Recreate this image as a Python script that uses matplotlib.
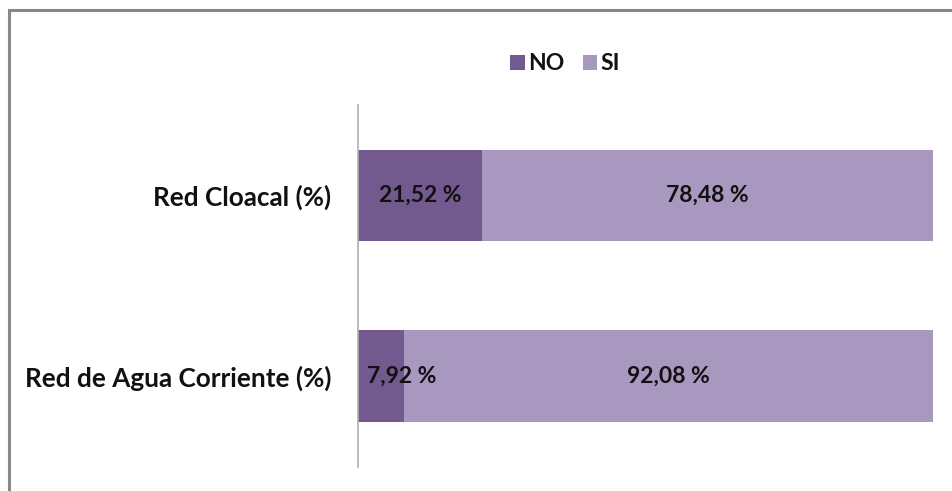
import matplotlib
matplotlib.use("Agg")
import matplotlib.pyplot as plt
from matplotlib.patches import Rectangle

categories = ["Red de Agua Corriente (%)", "Red Cloacal (%)"]
no_vals = [7.92, 21.52]
si_vals = [92.08, 78.48]
series_names = ["NO", "SI"]
colors = ["#725a8f", "#a897bf"]

plt.rcParams['font.family'] = ['Lato', 'DejaVu Sans']

W, H = 952, 491
fig = plt.figure(figsize=(W/100, H/100), dpi=100)
ax = fig.add_axes([358/W, 1-467/H, (933-358)/W, (467-105)/H])

y = list(range(len(categories)))
h = 0.505
b1 = ax.barh(y, no_vals, height=h, color=colors[0], label=series_names[0])
b2 = ax.barh(y, si_vals, left=no_vals, height=h, color=colors[1], label=series_names[1])

ax.set_xlim(0, 100)
ax.set_ylim(-0.504, 1.5)
ax.set_yticks(y)
ax.set_yticklabels(categories, fontsize=18.8, fontweight='bold', color='#111111')
ax.tick_params(axis='y', length=0, pad=19)
ax.set_xticks([])
for s in ['top', 'right', 'bottom']:
    ax.spines[s].set_visible(False)
ax.spines['left'].set_color('#b0b0b0')
ax.spines['left'].set_linewidth(1.2)

def fmt(v):
    return f"{v:.2f}".replace('.', ',') + " %"

lbl = dict(va='center', fontsize=16.5, fontweight='bold', color='#111111')
for i in y:
    nv, sv = no_vals[i], si_vals[i]
    if nv < 12:
        ax.text(1.5, i, fmt(nv), ha='left', **lbl)
    else:
        ax.text(nv/2, i, fmt(nv), ha='center', **lbl)
    ax.text(nv + sv/2, i, fmt(sv), ha='center', **lbl)

leg = fig.legend(handles=[b1, b2], labels=series_names, loc='center',
                 bbox_to_anchor=(565/W, 1-64/H), ncol=2, frameon=False,
                 prop={'size': 16.5, 'weight': 'bold'}, handlelength=0.65,
                 handleheight=0.65, handletextpad=0.12, columnspacing=0.8)
for t in leg.get_texts():
    t.set_color('#111111')

border = Rectangle((9/W, -1), 2, 1 + (1-10/H), transform=fig.transFigure,
                   fill=False, edgecolor='#888888', linewidth=2.2)
fig.patches.append(border)

fig.savefig("out.png", dpi=100)
